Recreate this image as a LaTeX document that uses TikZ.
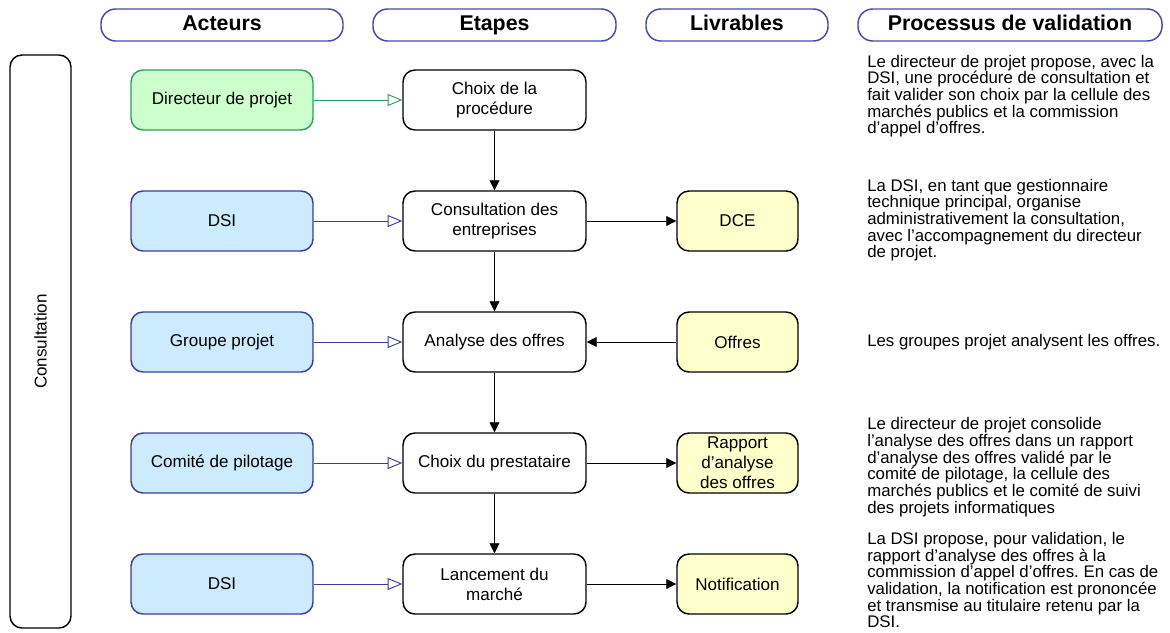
\documentclass[tikz,border=0pt]{standalone}
\usepackage{fontspec}
\setmainfont{Liberation Sans}
\usepackage{xcolor}
\usetikzlibrary{arrows.meta}
\definecolor{bordtitre}{HTML}{4A4AAA}
\definecolor{bordacteur}{HTML}{3C3CA0}
\definecolor{fondacteur}{HTML}{CCEBFF}
\definecolor{bordvert}{HTML}{2E9E5E}
\definecolor{fondvert}{HTML}{CCFFCC}
\definecolor{fondjaune}{HTML}{FFFFCC}
\frenchspacing

\begin{document}
\begin{tikzpicture}[x=0.75pt,y=-0.75pt,
    titre/.style={draw=bordtitre,line width=1.1pt,rounded corners=11pt,minimum height=24pt,
      text height=11.5pt,text depth=3pt,font=\fontsize{16}{18}\selectfont\bfseries},
    boite/.style={draw=black,line width=1.1pt,rounded corners=9pt,minimum height=45pt,
      align=center,inner sep=2pt,font=\fontsize{12.8}{15}\selectfont},
    acteur/.style={boite,draw=bordacteur,fill=fondacteur,minimum width=136.5pt},
    etape/.style={boite,fill=white,minimum width=137.25pt},
    livrable/.style={boite,fill=fondjaune,minimum width=90.75pt},
    texte/.style={anchor=west,align=left,inner sep=0pt,font=\fontsize{12.6}{12.5}\selectfont},
    flux/.style={-{Triangle[length=7.5pt,width=7.5pt]},line width=0.7pt},
    lien/.style={-{Triangle[open,length=11pt,width=9pt]},line width=0.7pt,draw=bordacteur}]
      \useasboundingbox (0,0) rectangle (1170,632);
      % en-tetes
      \node[titre,minimum width=181.5pt] (HA) at (222,25) {Acteurs};
      \node[titre,minimum width=182.25pt] (HE) at (494.5,25) {Etapes};
      \node[titre,minimum width=136.5pt] (HL) at (737,25) {Livrables};
      \node[titre,minimum width=228pt] (HP) at (1010,25) {Processus de validation};
      % phase
      \node[draw,line width=1.1pt,rounded corners=9pt,minimum width=45.75pt,minimum height=429.75pt] (C) at (40.5,341.5) {};
      \node[rotate=90,font=\fontsize{12.8}{15}\selectfont] at (C.center) {Consultation};
      % acteurs
      \node[acteur,draw=bordvert,fill=fondvert] (A1) at (222,100) {Directeur de projet};
      \node[acteur] (A2) at (222,221) {DSI};
      \node[acteur] (A3) at (222,342) {Groupe projet};
      \node[acteur] (A4) at (222,463) {Comité de pilotage};
      \node[acteur] (A5) at (222,584) {DSI};
      % etapes
      \node[etape] (E1) at (494.5,100) {Choix de la\\procédure};
      \node[etape] (E2) at (494.5,221) {Consultation des\\entreprises};
      \node[etape] (E3) at (494.5,342) {Analyse des offres};
      \node[etape] (E4) at (494.5,463) {Choix du prestataire};
      \node[etape] (E5) at (494.5,584) {Lancement du\\marché};
      % livrables
      \node[livrable] (L2) at (737.5,221) {DCE};
      \node[livrable] (L3) at (737.5,342) {Offres};
      \node[livrable] (L4) at (737.5,463) {Rapport\\d’analyse\\des offres};
      \node[livrable] (L5) at (737.5,584) {Notification};
      % processus de validation
      \node[texte] (P1) at (867,96) {Le directeur de projet propose, avec la\\DSI, une procédure de consultation et\\fait valider son choix par la cellule des\\marchés publics et la commission\\d’appel d’offres.};
      \node[texte] (P2) at (867,220) {La DSI, en tant que gestionnaire\\technique principal, organise\\administrativement la consultation,\\avec l’accompagnement du directeur\\de projet.};
      \node[texte] (P3) at (867,342) {Les groupes projet analysent les offres.};
      \node[texte] (P4) at (867,467) {Le directeur de projet consolide\\l’analyse des offres dans un rapport\\d’analyse des offres validé par le\\comité de pilotage, la cellule des\\marchés publics et le comité de suivi\\des projets informatiques};
      \node[texte] (P5) at (867,580) {La DSI propose, pour validation, le\\rapport d’analyse des offres à la\\commission d’appel d’offres. En cas de\\validation, la notification est prononcée\\et transmise au titulaire retenu par la\\DSI.};
      \draw[lien,draw=bordvert] (A1) -- (E1);
      \draw[lien] (A2) -- (E2);
      \draw[lien] (A3) -- (E3);
      \draw[lien] (A4) -- (E4);
      \draw[lien] (A5) -- (E5);
      \draw[flux] (E1) -- (E2);
      \draw[flux] (E2) -- (E3);
      \draw[flux] (E3) -- (E4);
      \draw[flux] (E4) -- (E5);
      \draw[flux] (E2) -- (L2);
      \draw[flux] (L3) -- (E3);
      \draw[flux] (E4) -- (L4);
      \draw[flux] (E5) -- (L5);
    \end{tikzpicture}
\end{document}
